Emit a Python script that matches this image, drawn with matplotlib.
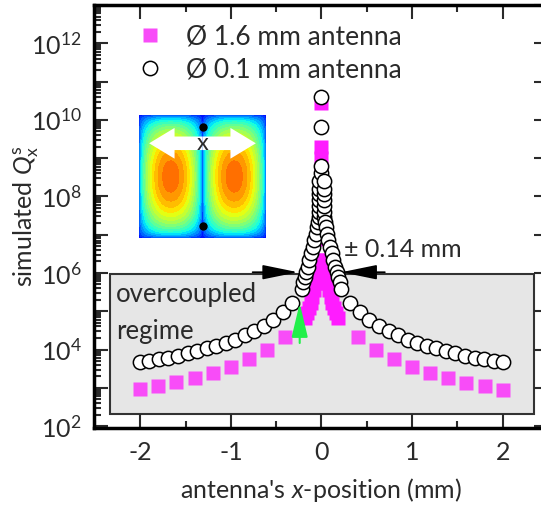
import numpy as np
import matplotlib
matplotlib.use('Agg')
import matplotlib.pyplot as plt
from matplotlib.patches import Rectangle, FancyArrow
from matplotlib.ticker import LogLocator, FuncFormatter, MultipleLocator

plt.rcParams['font.family'] = ['Lato', 'DejaVu Sans']
plt.rcParams['mathtext.fontset'] = 'custom'
plt.rcParams['mathtext.rm'] = 'Lato'
plt.rcParams['mathtext.it'] = 'Lato:italic'

# 1.6 mm antenna, coarse points (x in mm, log10 Q)
sq_x = [-2.0, -1.8, -1.6, -1.4, -1.2, -1.0, -0.8, -0.6, -0.4,
        0.4, 0.6, 0.8, 1.0, 1.2, 1.4, 1.6, 1.8, 2.0]
sq_logq = [2.96, 3.04, 3.14, 3.25, 3.39, 3.55, 3.74, 3.98, 4.33,
           4.33, 3.98, 3.74, 3.55, 3.38, 3.25, 3.13, 3.04, 2.94]

# 1.6 mm antenna, dense points near the centre
sqc_x = [-0.18, -0.16, -0.14, -0.12, -0.10, -0.08, -0.06, -0.04, -0.02,
         0.0, 0.0, 0.0, 0.0, 0.0, 0.0, 0.0, 0.0, 0.0,
         0.02, 0.04, 0.06, 0.08, 0.10, 0.12, 0.14, 0.16, 0.18]
sqc_logq = [4.82, 4.95, 5.08, 5.22, 5.38, 5.55, 5.75, 6.00, 6.35,
            6.9, 7.5, 7.8, 8.1, 8.4, 8.7, 9.0, 9.3, 10.45,
            6.35, 6.00, 5.75, 5.55, 5.38, 5.22, 5.08, 4.95, 4.82]

# 0.1 mm antenna
ci_x = [-2.0, -1.9, -1.79, -1.69, -1.58, -1.47, -1.37, -1.26, -1.16, -1.05,
        -0.95, -0.84, -0.74, -0.63, -0.53, -0.42, -0.32,
        -0.22, -0.206, -0.187, -0.169, -0.151, -0.132, -0.114, -0.095,
        -0.077, -0.058, -0.045, -0.038,
        -0.03, -0.03, -0.03, -0.03, -0.03, -0.03, -0.03,
        0.0, 0.0, 0.0, 0.0,
        0.03, 0.03, 0.03, 0.03, 0.03, 0.03, 0.03,
        0.038, 0.045, 0.058, 0.077, 0.095, 0.114, 0.132, 0.151, 0.169,
        0.187, 0.206, 0.22,
        0.32, 0.42, 0.53, 0.63, 0.74, 0.84, 0.95, 1.05, 1.16, 1.26,
        1.37, 1.47, 1.58, 1.69, 1.79, 1.9, 2.0]
ci_logq = [3.68, 3.70, 3.74, 3.78, 3.83, 3.90, 3.96, 4.03, 4.10, 4.17,
           4.26, 4.37, 4.48, 4.61, 4.77, 4.97, 5.22,
           5.59, 5.77, 5.90, 6.03, 6.16, 6.33, 6.51, 6.68,
           6.86, 7.03, 7.20, 7.33,
           7.45, 7.60, 7.75, 7.90, 8.05, 8.20, 8.40,
           8.60, 8.80, 9.80, 10.60,
           7.45, 7.60, 7.75, 7.90, 8.05, 8.20, 8.40,
           7.33, 7.20, 7.03, 6.86, 6.68, 6.51, 6.33, 6.16, 6.03,
           5.90, 5.77, 5.59,
           5.22, 4.97, 4.77, 4.61, 4.48, 4.37, 4.26, 4.17, 4.10, 4.03,
           3.96, 3.90, 3.83, 3.78, 3.74, 3.70, 3.68]

txt = '#2a2a2a'

fig = plt.figure(figsize=(5.41, 5.08), dpi=100)
ax = fig.add_axes([94 / 541, 1 - 428 / 508, 454 / 541, 423 / 508])

ax.add_patch(Rectangle((-2.336, 205), 4.683, 9.3e5 - 205, facecolor='#e6e6e6',
                       edgecolor='#333333', lw=1.5, zorder=0.5))
ax.text(-2.27, 10 ** 5.43, 'overcoupled', fontsize=18.5, color=txt, va='center')
ax.text(-2.27, 10 ** 4.48, 'regime', fontsize=18.5, color=txt, va='center')

ax.plot(sq_x, 10 ** np.array(sq_logq), 's', color='#f84cf8', ms=9.5, mec='none',
        zorder=2, label='Ø 1.6 mm antenna')
ax.plot(sqc_x, 10 ** np.array(sqc_logq), 's', color='#ff1cff', ms=9.5, mec='none', zorder=2)
ax.plot(ci_x, 10 ** np.array(ci_logq), 'o', mfc='white', mec='black', mew=1.1, ms=10.3,
        zorder=3, label='Ø 0.1 mm antenna')

# +/- 0.14 mm arrows
yarr = 10 ** 6.02
ax.annotate('', xy=(-0.26, yarr), xytext=(-0.76, yarr),
            arrowprops=dict(arrowstyle='-|>,head_length=2.2,head_width=0.45',
                            color='black', lw=1.2, mutation_scale=10, shrinkA=0, shrinkB=0),
            zorder=4)
ax.annotate('', xy=(0.22, yarr), xytext=(0.70, yarr),
            arrowprops=dict(arrowstyle='-|>,head_length=2.2,head_width=0.45',
                            color='black', lw=1.2, mutation_scale=10, shrinkA=0, shrinkB=0),
            zorder=4)
ax.text(0.25, 10 ** 6.6, '± 0.14 mm', fontsize=18, color=txt, va='center')

# green arrow
ax.annotate('', xy=(-0.24, 10 ** 5.21), xytext=(-0.24, 10 ** 4.17),
            arrowprops=dict(arrowstyle='-|>,head_length=2.1,head_width=0.5',
                            color='#22f04a', lw=1.5, mutation_scale=10, shrinkA=0, shrinkB=0),
            zorder=4)

ax.set_yscale('log')
ax.set_xlim(-2.51, 2.5)
ax.set_ylim(10 ** 1.95, 1e13)
ax.xaxis.set_major_locator(MultipleLocator(1))
ax.xaxis.set_minor_locator(MultipleLocator(0.5))
ax.xaxis.set_major_formatter(FuncFormatter(lambda v, p: '%d' % round(v)))
ax.yaxis.set_major_locator(LogLocator(base=10, numticks=20))
ax.yaxis.set_minor_locator(LogLocator(base=10, subs=np.arange(2, 10), numticks=20))
ax.yaxis.set_minor_formatter(FuncFormatter(lambda v, p: ''))
ax.yaxis.set_major_formatter(FuncFormatter(
    lambda v, p: r'$\mathregular{10^{%d}}$' % round(np.log10(v)) if round(np.log10(v)) % 2 == 0 else ''))
ax.tick_params(which='both', direction='in', top=True, right=True, width=1.5,
               labelsize=18, colors=txt)
ax.tick_params(which='major', length=10, pad=9)
ax.tick_params(which='minor', length=5)
for s in ax.spines.values():
    s.set_linewidth(2.5)
    s.set_color('black')

ax.set_xlabel("antenna's $\\mathit{x}$-position (mm)", fontsize=18, color=txt, labelpad=9)
ax.set_ylabel('simulated $\\mathit{Q}_\\mathregular{x}^\\mathregular{s}$', fontsize=18, color=txt)
ax.yaxis.set_label_coords(-0.117, 0.5)

ax.legend(loc='upper left', bbox_to_anchor=(0.072, 0.979), frameon=False, fontsize=19,
          handlelength=1.0, handletextpad=0.85, labelspacing=0.3, borderaxespad=0,
          labelcolor=txt)

# inset: field picture
ins = fig.add_axes([139 / 541, 1 - 238 / 508, 127 / 541, 123 / 508])
u = np.linspace(0, 1, 250)
U, V = np.meshgrid(u, u)
field = (np.abs(np.sin(2 * np.pi * U)) * np.sin(np.pi * V)) ** 0.5
ins.contourf(U, V, field, levels=16, cmap='jet', vmin=-0.18, vmax=1.3)
ins.plot([0.5, 0.5], [0.1, 0.9], 'o', color='black', ms=5)
ins.add_patch(FancyArrow(0.5, 0.77, -0.42, 0, width=0.11, head_width=0.25,
                         head_length=0.2, length_includes_head=True, color='white', lw=0))
ins.add_patch(FancyArrow(0.5, 0.77, 0.42, 0, width=0.11, head_width=0.25,
                         head_length=0.2, length_includes_head=True, color='white', lw=0))
ins.text(0.5, 0.77, 'x', fontsize=17, ha='center', va='center', color=txt)
ins.set_xlim(0, 1)
ins.set_ylim(0, 1)
ins.set_xticks([])
ins.set_yticks([])
for s in ins.spines.values():
    s.set_visible(False)

fig.savefig('out.png', dpi=100)
